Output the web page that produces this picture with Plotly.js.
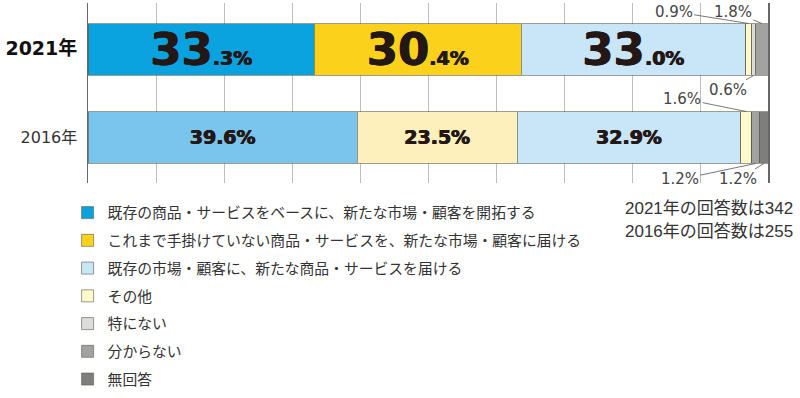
<!DOCTYPE html>
<html><head><meta charset="utf-8">
<script src="https://cdn.plot.ly/plotly-3.0.1.min.js"></script>
<style>html,body{margin:0;padding:0;background:#fff}#chart{width:800px;height:398px}</style>
</head><body><div id="chart"></div>
<script>
// ---- data ----
const years = ['2021年', '2016年'];
const seriesNames = [
  '既存の商品・サービスをベースに、新たな市場・顧客を開拓する',
  'これまで手掛けていない商品・サービスを、新たな市場・顧客に届ける',
  '既存の市場・顧客に、新たな商品・サービスを届ける',
  'その他',
  '特にない',
  '分からない',
  '無回答'
];
const existingProductNewMarket = [33.3, 39.6];
const newProductNewMarket = [30.4, 23.5];
const existingMarketNewProduct = [33.0, 32.9];
const other = [0.9, 1.6];
const nothing = [0.6, 0];
const unknown = [1.8, 1.2];
const noAnswer = [0, 1.2];
const respondents = [342, 255];

// ---- styles ----
const seriesValues = [existingProductNewMarket, newProductNewMarket, existingMarketNewProduct, other, nothing, unknown, noAnswer];
const seriesColors = [
  ['#0aa2df', '#7ac5ee'],
  ['#fcd11c', '#fdf0bc'],
  ['#c9e6f8', '#c9e6f8'],
  ['#fff9cc', '#fff9cc'],
  ['#dcdcdc', '#dcdcdc'],
  ['#a2a2a2', '#a2a2a2'],
  ['#7e7e7e', '#7e7e7e']
];
const BAR_W = 0.59;
const catIndex = {'2016年': 0, '2021年': 1};

function barText(v, yi) {
  if (v < 5) return '';
  const parts = v.toFixed(1).split('.');
  if (yi === 0) {
    return '<span style="font-size:45px">' + parts[0] + '</span><span style="font-size:19px">.' + parts[1] + '%</span>';
  }
  return v.toFixed(1) + '%';
}

const traces = seriesNames.map((name, si) => ({
  type: 'bar',
  orientation: 'h',
  name: name,
  legendgroup: 'g' + si,
  y: years,
  x: seriesValues[si],
  marker: {color: seriesColors[si], line: {color: 'rgba(90,90,70,0.75)', width: 0.8}},
  text: seriesValues[si].map((v, yi) => barText(v, yi)),
  textposition: 'inside',
  insidetextanchor: 'middle',
  constraintext: 'none',
  textfont: {family: 'DejaVu Sans, Noto Sans CJK JP', size: 19, weight: 'bold', color: '#231815',
             shadow: '0.5px 0 0 #231815, -0.5px 0 0 #231815'},
  hoverinfo: 'skip',
  width: BAR_W
}));

// small-segment callouts: [seriesIndex, yearIndex, side(+1 top / -1 bottom), ax, ay]
const callouts = [
  [3, 0, 1, -75, -12],
  [5, 0, 1, -29, -12],
  [4, 0, -1, -26, 15],
  [3, 1, 1, -64, -13],
  [5, 1, -1, -76, 16],
  [6, 1, -1, -26, 16]
];
function cumStart(si, yi) {
  let s = 0;
  for (let k = 0; k < si; k++) s += seriesValues[k][yi];
  return s;
}
const annotations = callouts.map(([si, yi, side, ax, ay]) => {
  const v = seriesValues[si][yi];
  return {
    xref: 'x', yref: 'y',
    x: cumStart(si, yi) + v / 2,
    y: catIndex[years[yi]] + side * BAR_W / 2,
    text: v.toFixed(1) + '%',
    showarrow: true, arrowhead: 0, arrowwidth: 0.8, arrowcolor: '#555',
    ax: ax, ay: ay, standoff: 0,
    font: {family: 'DejaVu Sans', size: 15, color: '#444'}
  };
});
years.forEach((yr, yi) => {
  annotations.push({
    xref: 'paper', yref: 'paper',
    x: 1.04, y: -0.141 - yi * 0.125,
    xanchor: 'right', yanchor: 'middle',
    text: yr + 'の回答数は' + respondents[yi],
    showarrow: false,
    font: {family: 'Liberation Sans, Noto Sans CJK JP', size: 17, color: '#333'}
  });
});

const tickText = years.map((yr, yi) => yi === 0
  ? '<span style="font-size:19px;font-weight:bold;fill:#111">' + yr + '</span>'
  : '<span style="font-size:16px;fill:#333">' + yr + '</span>');

const layout = {
  width: 800, height: 398,
  margin: {l: 88, r: 32, t: 3, b: 211},
  paper_bgcolor: '#fff', plot_bgcolor: '#fff',
  barmode: 'stack',
  showlegend: true,
  legend: {
    orientation: 'v', x: -0.03, xanchor: 'left', y: -0.075, yanchor: 'top',
    traceorder: 'grouped', tracegroupgap: 5.5,
    font: {family: 'Noto Sans CJK JP', size: 14.8, color: '#333'},
    bgcolor: 'rgba(0,0,0,0)'
  },
  xaxis: {
    range: [0, 100], tickvals: [0, 10, 20, 30, 40, 50, 60, 70, 80, 90, 100],
    showticklabels: false, showgrid: true, gridcolor: '#bdbdbd', gridwidth: 1,
    zeroline: false, showline: false, fixedrange: true
  },
  yaxis: {
    type: 'category', categoryorder: 'array', categoryarray: ['2016年', '2021年'],
    range: [-0.517, 1.528],
    tickvals: years, ticktext: tickText, ticks: '', ticklabelstandoff: 6,
    tickfont: {family: 'DejaVu Sans, Noto Sans CJK JP', size: 16, color: '#333'},
    showgrid: false, zeroline: false,
    showline: true, linecolor: '#666', linewidth: 1.5, mirror: true, fixedrange: true
  },
  annotations: annotations
};

Plotly.newPlot('chart', traces, layout, {displayModeBar: false, staticPlot: true});
</script>
</body></html>
